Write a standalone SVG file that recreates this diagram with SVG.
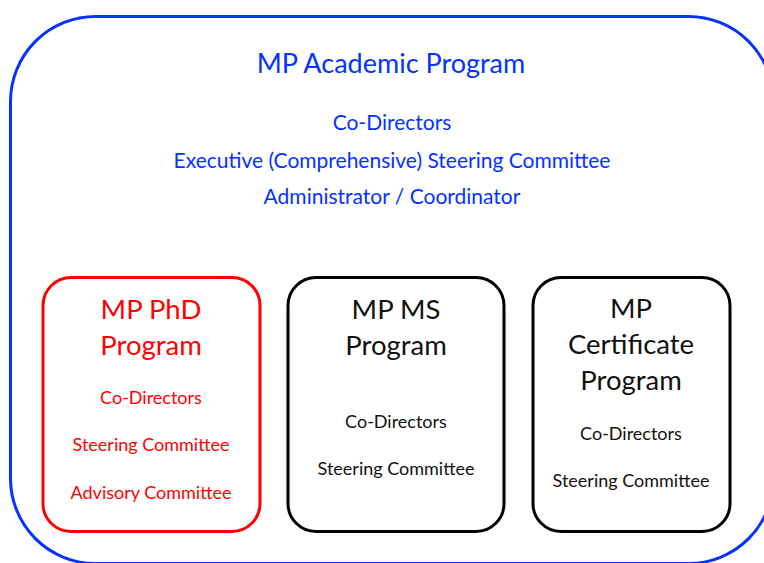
<svg xmlns="http://www.w3.org/2000/svg" width="764" height="563" viewBox="0 0 764 563">
  <style>
    text { font-family: Lato, "Open Sans", "Liberation Sans", sans-serif; text-anchor: middle; }
    .blue { fill: #0433ff; }
    .red { fill: #ff0000; }
    .black { fill: #111111; }
    .title { font-size: 27px; }
    .head { font-size: 21px; }
    .big { font-size: 27.5px; }
    .small { font-size: 18px; }
    .frame { fill: none; stroke-width: 3; }
  </style>
  <rect width="764" height="563" fill="#ffffff"/>

  <!-- umbrella program -->
  <g id="academic-program">
    <rect class="frame" x="10.5" y="16.5" width="763" height="547" rx="85" ry="85" stroke="#0433ff"/>
    <text class="blue title" x="391" y="73">MP Academic Program</text>
    <text class="blue head" x="392" y="130">Co-Directors</text>
    <text class="blue head" x="392" y="168">Executive (Comprehensive) Steering Committee</text>
    <text class="blue head" x="392" y="204">Administrator / Coordinator</text>
  </g>

  <!-- PhD program -->
  <g id="phd-program">
    <rect class="frame" x="43" y="277.5" width="217" height="254" rx="28" ry="28" stroke="#ff0000"/>
    <text class="red big" x="151" y="319">MP PhD</text>
    <text class="red big" x="151" y="355">Program</text>
    <text class="red small" x="151" y="404">Co-Directors</text>
    <text class="red small" x="151" y="451">Steering Committee</text>
    <text class="red small" x="151" y="499">Advisory Committee</text>
  </g>

  <!-- MS program -->
  <g id="ms-program">
    <rect class="frame" x="288" y="277.5" width="216" height="254" rx="28" ry="28" stroke="#000000"/>
    <text class="black big" x="396" y="319">MP MS</text>
    <text class="black big" x="396" y="355">Program</text>
    <text class="black small" x="396" y="428">Co-Directors</text>
    <text class="black small" x="396" y="475">Steering Committee</text>
  </g>

  <!-- Certificate program -->
  <g id="certificate-program">
    <rect class="frame" x="533" y="277.5" width="197" height="254" rx="28" ry="28" stroke="#000000"/>
    <text class="black big" x="631" y="318">MP</text>
    <text class="black big" x="631" y="354">Certificate</text>
    <text class="black big" x="631" y="390">Program</text>
    <text class="black small" x="631" y="440">Co-Directors</text>
    <text class="black small" x="631" y="487">Steering Committee</text>
  </g>

  <g id="connectors"/>
</svg>
